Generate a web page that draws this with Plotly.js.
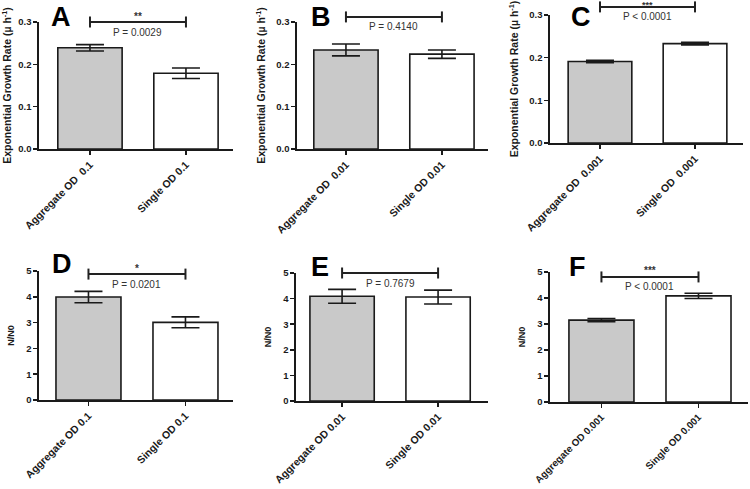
<!DOCTYPE html>
<html>
<head>
<meta charset="utf-8">
<script src="https://cdn.plot.ly/plotly-3.0.1.min.js"></script>
<style>html,body{margin:0;padding:0;background:#fff;}</style>
</head>
<body>
<div id="chart" style="width:750px;height:489px;"></div>
<script>
// ---------- data ----------
const panelLetters = ['A', 'B', 'C', 'D', 'E', 'F'];
const categoryLabels = [
  ['Aggregate OD\u00a0 0.1', 'Single OD 0.1'],
  ['Aggregate OD\u00a0 0.01', 'Single OD 0.01'],
  ['Aggregate OD\u00a0 0.001', 'Single OD\u00a0 0.001'],
  ['Aggregate OD 0.1', 'Single OD 0.1'],
  ['Aggregate OD 0.01', 'Single OD 0.01'],
  ['Aggregate OD 0.001', 'Single OD 0.001']
];
const growthAggregate    = [0.239, 0.234, 0.191];
const growthAggregateErr = [0.0075, 0.014, 0.003];
const growthSingle       = [0.179, 0.224, 0.233];
const growthSingleErr    = [0.0125, 0.010, 0.003];
const ratioAggregate     = [3.99, 4.09, 3.15];
const ratioAggregateErr  = [0.22, 0.27, 0.06];
const ratioSingle        = [3.01, 4.06, 4.08];
const ratioSingleErr     = [0.21, 0.27, 0.10];
const pLabels = ['P = 0.0029', 'P = 0.4140', 'P < 0.0001', 'P = 0.0201', 'P = 0.7679', 'P < 0.0001'];
const starLabels = ['**', '', '***', '*', '', '***'];
const bracketLevel = [0.300, 0.312, 0.319, 4.88, 5.0, 4.81];
const yTitles = ['Exponential Growth Rate (µ h<sup>-1</sup>)', 'N/N0'];

// ---------- geometry (pixels in 750x489 page) ----------
const W = 750, H = 489;
const panelBox = [ // left, right, top, bottom of axes
  [39, 233, 22, 149],
  [297, 488, 22, 149],
  [550, 743, 15, 143],
  [39, 233, 271, 400],
  [296, 488, 273, 401],
  [550, 748, 272, 402]
];
const xRanges = [[-0.531, 1.49], [-0.51, 1.48], [-0.526, 1.505], [-0.51, 1.49], [-0.48, 1.52], [-0.53, 1.51]];
const yMax = [0.3, 0.3, 0.3, 5, 5, 5];
const letterPos = [[61, 17], [321, 17], [580.5, 17], [61.5, 264], [320, 267], [577, 267]];
const starShift = [6, 6, 2, 6, 6, 6];
const catFontSize = [10.5, 10.5, 10.5, 10.5, 10.5, 9.8];

const FONT = 'Liberation Sans, Arial, sans-serif';
const INK = '#1a1a1a';

const traces = [];
const layout = {
  width: W, height: H,
  margin: {l: 0, r: 0, t: 0, b: 0},
  paper_bgcolor: '#fff', plot_bgcolor: 'rgba(0,0,0,0)',
  showlegend: false,
  font: {family: FONT, color: INK},
  shapes: [], annotations: []
};

function pxX(i, v) { // data -> paper fraction
  const b = panelBox[i], r = xRanges[i];
  return (b[0] + (v - r[0]) / (r[1] - r[0]) * (b[1] - b[0])) / W;
}
function pxY(i, v) {
  const b = panelBox[i];
  return 1 - (b[3] - v / yMax[i] * (b[3] - b[2])) / H;
}

for (let i = 0; i < 6; i++) {
  const growth = i < 3;
  const k = i % 3;
  const vals = growth ? [growthAggregate[k], growthSingle[k]] : [ratioAggregate[k], ratioSingle[k]];
  const errs = growth ? [growthAggregateErr[k], growthSingleErr[k]] : [ratioAggregateErr[k], ratioSingleErr[k]];
  const sfx = i === 0 ? '' : String(i + 1);
  traces.push({
    type: 'bar', x: [0, 1], y: vals, width: 0.67,
    xaxis: 'x' + sfx, yaxis: 'y' + sfx,
    marker: {color: ['#c9c9c9', '#ffffff'], line: {color: INK, width: 1.6}},
    error_y: {type: 'data', array: errs, visible: true, color: INK, thickness: 1.6, width: 14},
    hoverinfo: 'skip'
  });
  const b = panelBox[i];
  layout['xaxis' + sfx] = {
    domain: [b[0] / W, b[1] / W], range: xRanges[i], anchor: 'y' + sfx,
    showline: true, linecolor: INK, linewidth: 1.6, mirror: false,
    ticks: 'outside', ticklen: 4, tickwidth: 1.6, tickcolor: INK,
    tickmode: 'array', tickvals: [0, 1], ticktext: categoryLabels[i], tickangle: -45,
    tickfont: {family: FONT, size: catFontSize[i], weight: 'bold', color: INK},
    showgrid: false, zeroline: false, fixedrange: true
  };
  layout['yaxis' + sfx] = {
    domain: [1 - b[3] / H, 1 - b[2] / H], range: [0, yMax[i]], anchor: 'x' + sfx,
    showline: true, linecolor: INK, linewidth: 1.6,
    ticks: 'outside', ticklen: 4, tickwidth: 1.6, tickcolor: INK,
    tickmode: 'linear', tick0: 0, dtick: growth ? 0.1 : 1, tickformat: growth ? '.1f' : 'd',
    tickfont: {family: FONT, size: 9.5, weight: 'bold', color: INK},
    showgrid: false, zeroline: false, fixedrange: true,
    title: {text: growth ? yTitles[0] : yTitles[1],
            font: {family: FONT, size: growth ? 10.5 : 9, weight: 'bold', color: INK},
            standoff: growth ? 8 : 10}
  };
  // significance bracket
  const yb = pxY(i, bracketLevel[i]);
  const x0 = pxX(i, 0), x1 = pxX(i, 1);
  layout.shapes.push({type: 'line', xref: 'paper', yref: 'paper', x0: x0, x1: x1, y0: yb, y1: yb,
                      line: {color: '#222', width: 2}});
  [x0, x1].forEach(xx => layout.shapes.push({
    type: 'line', xref: 'paper', yref: 'paper', ysizemode: 'pixel', yanchor: yb,
    x0: xx, x1: xx, y0: -5.5, y1: 5.5, line: {color: '#222', width: 2}
  }));
  const xm = pxX(i, 0.5);
  layout.annotations.push({xref: 'paper', yref: 'paper', x: xm, y: yb, yshift: -10,
    xanchor: 'center', yanchor: 'middle', showarrow: false, text: pLabels[i],
    font: {family: FONT, size: 10, color: '#333'}});
  if (starLabels[i]) {
    layout.annotations.push({xref: 'paper', yref: 'paper', x: xm, y: yb, yshift: starShift[i],
      xanchor: 'center', yanchor: 'middle', showarrow: false, text: starLabels[i],
      font: {family: FONT, size: i === 2 ? 9 : 10, weight: 'bold', color: '#333'}});
  }
  layout.annotations.push({xref: 'paper', yref: 'paper',
    x: letterPos[i][0] / W, y: 1 - letterPos[i][1] / H,
    xanchor: 'center', yanchor: 'middle', showarrow: false, text: panelLetters[i],
    font: {family: FONT, size: 27, weight: 'bold', color: '#000'}});
}

Plotly.newPlot('chart', traces, layout, {displayModeBar: false, staticPlot: true});
</script>
</body>
</html>
